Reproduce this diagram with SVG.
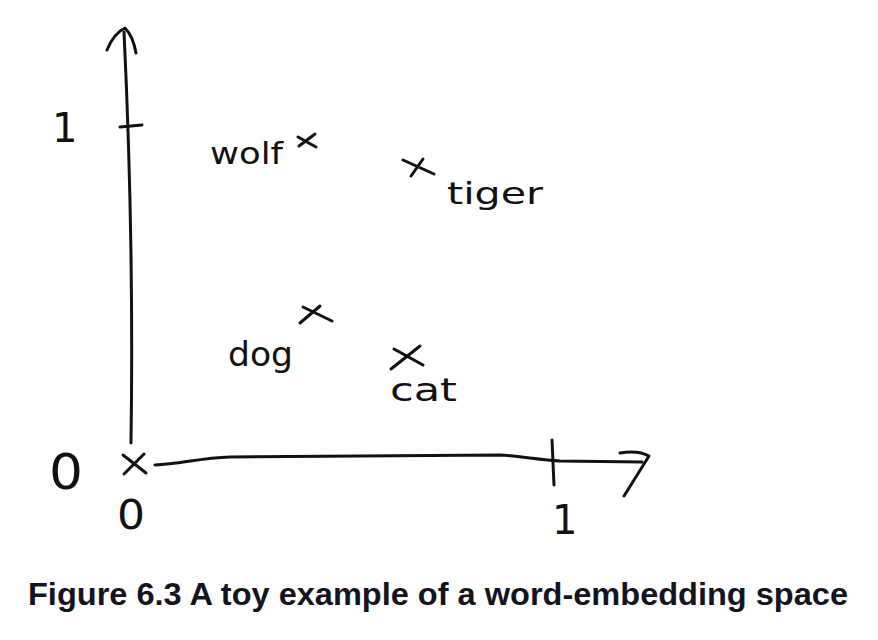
<svg xmlns="http://www.w3.org/2000/svg" width="878" height="640" viewBox="0 0 878 640">
  <style>
    .ink { fill: none; stroke: #111; stroke-width: 3; stroke-linecap: round; stroke-linejoin: round; }
    .hand { font-family: "DejaVu Sans", "Liberation Sans", sans-serif; fill: #111; }
    .cap { font-family: "Liberation Sans", Arial, sans-serif; font-weight: bold; fill: #14141f; }
  </style>
  <rect width="878" height="640" fill="#ffffff"/>
  <g id="connectors">
    <path class="ink" d="M124,32 Q134,240 131,443"/>
    <path class="ink" d="M107,50 Q114,33 125,28 Q133,36 136,53"/>
    <path class="ink" d="M120,127 L142,125"/>
    <path class="ink" d="M155,465 C180,464 200,458 230,457 L500,455 C520,456 540,460 560,461 L642,462"/>
    <path class="ink" d="M620,453 C632,451 642,452 649,456 L624,496"/>
    <path class="ink" d="M552,440 L554,485"/>
  </g>
  <g id="origin">
    <path class="ink" d="M123,455 L146,473 M144,454 L124,474"/>
    <text class="hand" x="49" y="489" font-size="50" textLength="34" lengthAdjust="spacingAndGlyphs">0</text>
    <text class="hand" x="117" y="529" font-size="40" textLength="28" lengthAdjust="spacingAndGlyphs">0</text>
  </g>
  <g id="tick-y">
    <text class="hand" x="52" y="142" font-size="40">1</text>
  </g>
  <g id="tick-x">
    <text class="hand" x="552" y="534" font-size="40">1</text>
  </g>
  <g id="wolf">
    <path class="ink" d="M298,137 L316,147 M315,134 L299,146"/>
    <text class="hand" x="210" y="164" font-size="30" textLength="73" lengthAdjust="spacingAndGlyphs">wolf</text>
  </g>
  <g id="tiger">
    <path class="ink" d="M403,160 L434,174 M423,159 L411,176"/>
    <text class="hand" x="447" y="204" font-size="30" textLength="96" lengthAdjust="spacingAndGlyphs">tiger</text>
  </g>
  <g id="dog">
    <path class="ink" d="M303,307 L332,321 M320,306 L300,323"/>
    <text class="hand" x="228" y="366" font-size="34" textLength="65" lengthAdjust="spacingAndGlyphs">dog</text>
  </g>
  <g id="cat">
    <path class="ink" d="M391,369 L420,346 M394,349 L423,365"/>
    <text class="hand" x="390" y="401" font-size="32" textLength="67" lengthAdjust="spacingAndGlyphs">cat</text>
  </g>
  <text class="cap" x="28" y="605" font-size="32" textLength="820" lengthAdjust="spacingAndGlyphs">Figure 6.3 A toy example of a word-embedding space</text>
</svg>
